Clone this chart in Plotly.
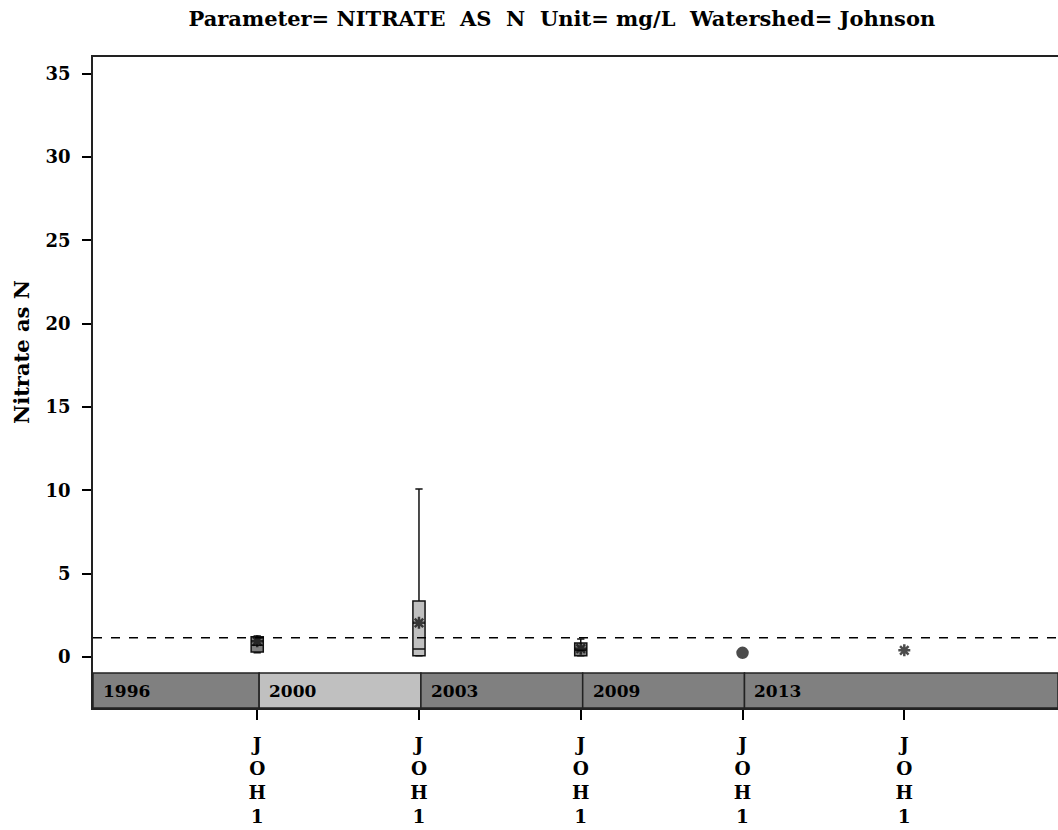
import plotly.graph_objects as go

# ---------------- data ----------------
sites = ["JOH1", "JOH1", "JOH1", "JOH1", "JOH1"]
site_pos = [1, 2, 3, 4, 5]
years = ["1996", "2000", "2003", "2009", "2013"]

# box statistics (mg/L); None where only a single value exists
q1 = [0.30, 0.08, 0.08, None, None]
median = [0.70, 0.48, 0.40, None, None]
q3 = [1.22, 3.36, 0.84, None, None]
lower = [0.26, 0.06, 0.06, None, None]
upper = [1.26, 10.08, 1.08, None, None]
mean = [0.95, 2.05, 0.50, 0.25, 0.40]

ref_level = 1.15
y_ticks = [0, 5, 10, 15, 20, 25, 30, 35]

# ---------------- style ----------------
FONT = "DejaVu Serif"
band_colors = ["#808080", "#c0c0c0", "#808080", "#808080", "#808080"]
X_RANGE = [-0.015, 5.95]
Y_RANGE = [-3.06, 36.0]
BAND_TOP = -0.96

fig = go.Figure()

for i, p in enumerate(site_pos):
    if q1[i] is not None:
        fig.add_trace(go.Box(
            x=[p], q1=[q1[i]], median=[median[i]], q3=[q3[i]],
            lowerfence=[lower[i]], upperfence=[upper[i]],
            width=0.075, whiskerwidth=0.6,
            fillcolor=band_colors[i],
            line=dict(color="#111111", width=1.5),
            boxpoints=False, showlegend=False, hoverinfo="skip",
        ))

symbols = ["asterisk-open", "asterisk-open", "asterisk-open", "circle", "asterisk-open"]
fig.add_trace(go.Scatter(
    x=site_pos, y=mean, mode="markers", showlegend=False, hoverinfo="skip",
    marker=dict(symbol=symbols, size=[10, 10, 10, 10, 10], color="black",
                line=dict(color="black", width=2.5)),
))

shapes = []
shapes.append(dict(type="line", xref="x", yref="y", x0=X_RANGE[0], x1=X_RANGE[1],
                   y0=ref_level, y1=ref_level,
                   line=dict(color="black", width=1.5, dash="dash")))
annotations = []
for i, yr in enumerate(years):
    x0 = X_RANGE[0] if i == 0 else site_pos[i - 1] + 0.012
    x1 = site_pos[i] + 0.012 if i < len(years) - 1 else X_RANGE[1]
    shapes.append(dict(type="rect", xref="x", yref="y", x0=x0, x1=x1,
                       y0=Y_RANGE[0], y1=BAND_TOP,
                       fillcolor=band_colors[i], line=dict(color="#222222", width=1.5),
                       layer="above"))
    annotations.append(dict(x=x0, y=(Y_RANGE[0] + BAND_TOP) / 2, xref="x", yref="y",
                            text=yr, showarrow=False, xanchor="left", yanchor="middle",
                            xshift=8, font=dict(family=FONT, size=17, color="black",
                                                weight="bold")))

annotations.append(dict(x=0, y=18.3, xref="paper", yref="y", text="Nitrate as N",
                        textangle=-90, showarrow=False, xanchor="center", yanchor="middle",
                        xshift=-72, font=dict(family=FONT, size=21, color="black",
                                              weight="bold")))

fig.update_layout(
    width=1058, height=830,
    margin=dict(l=93, r=0, t=57, b=122, autoexpand=False),
    paper_bgcolor="white", plot_bgcolor="white",
    title=dict(text="Parameter= NITRATE  AS  N  Unit= mg/L  Watershed= Johnson",
               x=0.531, xanchor="center", y=0.978, yanchor="middle",
               font=dict(family=FONT, size=21, color="black", weight="bold")),
    shapes=shapes, annotations=annotations,
    xaxis=dict(range=X_RANGE, tickvals=site_pos, automargin=False,
               ticktext=["<br>".join(list(s)) for s in sites],
               ticks="outside", ticklen=10, tickcolor="black", tickwidth=1.5,
               showline=True, linecolor="#222222", linewidth=1.5, mirror=True,
               showgrid=False, zeroline=False, ticklabelstandoff=9,
               tickfont=dict(family=FONT, size=18.5, color="black", weight="bold")),
    yaxis=dict(range=Y_RANGE, tickvals=y_ticks, automargin=False,
               ticks="outside", ticklen=9, tickcolor="black", tickwidth=1.5,
               showline=True, linecolor="#222222", linewidth=1.5, mirror=True,
               showgrid=False, zeroline=False, ticklabelstandoff=8,
               tickfont=dict(family=FONT, size=18, color="black", weight="bold")),
)

fig.write_html("out.html", config={"displayModeBar": False},
               post_script="document.body.style.margin='0px';document.body.style.overflow='hidden';")
